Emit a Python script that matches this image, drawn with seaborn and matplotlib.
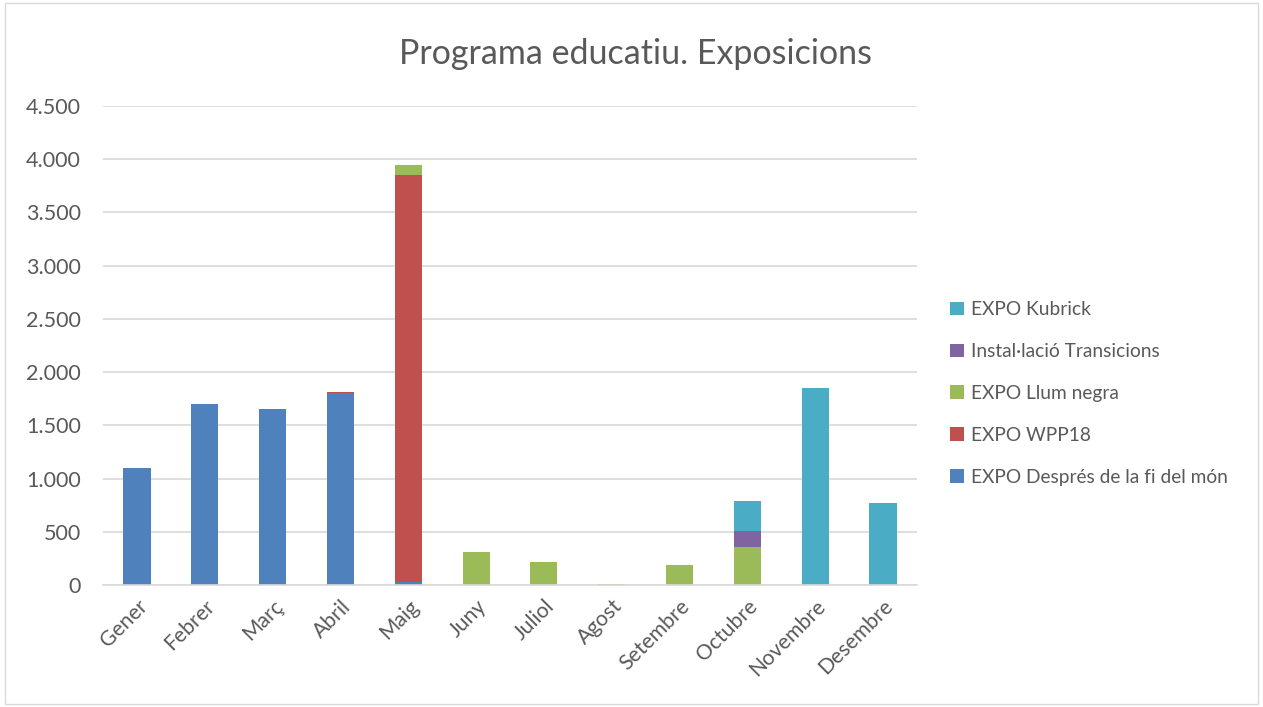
import matplotlib
matplotlib.use("Agg")
import matplotlib.pyplot as plt
import seaborn as sns
import pandas as pd
import numpy as np
from matplotlib.ticker import FuncFormatter
from matplotlib.patches import Rectangle

months = ["Gener", "Febrer", "Març", "Abril", "Maig", "Juny", "Juliol", "Agost",
          "Setembre", "Octubre", "Novembre", "Desembre"]
despres = [1100, 1700, 1650, 1805, 25, 0, 0, 0, 0, 0, 0, 0]
wpp18 = [0, 0, 0, 12, 3830, 0, 0, 0, 0, 0, 0, 0]
llum_negra = [0, 0, 0, 0, 95, 310, 220, 10, 190, 360, 0, 0]
transicions = [0, 0, 0, 0, 0, 0, 0, 0, 0, 150, 0, 0]
kubrick = [0, 0, 0, 0, 0, 0, 0, 0, 0, 280, 1850, 770]

series_names = ["EXPO Després de la fi del món", "EXPO WPP18", "EXPO Llum negra",
                "Instal·lació Transicions", "EXPO Kubrick"]
series_values = [despres, wpp18, llum_negra, transicions, kubrick]
colors = ["#4F81BD", "#C0504D", "#9BBB59", "#8064A2", "#4BACC6"]

sns.set_theme(style="white")
plt.rcParams["font.family"] = ["Lato", "DejaVu Sans"]

fig = plt.figure(figsize=(12.63, 7.07), dpi=100)
ax = fig.add_axes([0.0816, 0.1726, 0.6444, 0.6774])

bottom = np.zeros(len(months))
for name, vals, col in zip(series_names, series_values, colors):
    df = pd.DataFrame({"mes": months, "valor": vals})
    sns.barplot(data=df, x="mes", y="valor", color=col, bottom=bottom, width=0.4,
                ax=ax, label=name, saturation=1, errorbar=None, order=months,
                linewidth=0, edgecolor="none")
    bottom = bottom + np.array(vals)

ax.set_ylim(0, 4500)
ax.set_yticks(np.arange(0, 4501, 500))
ax.yaxis.set_major_formatter(FuncFormatter(lambda v, p: f"{int(v):,}".replace(",", ".")))
ax.grid(axis="y", color="#D9D9D9", linewidth=1.2)
ax.set_axisbelow(True)
for s in ["top", "right", "left"]:
    ax.spines[s].set_visible(False)
ax.spines["bottom"].set_color("#D9D9D9")
ax.spines["bottom"].set_linewidth(1.2)
ax.set_xlabel("")
ax.set_ylabel("")
ax.tick_params(axis="y", length=0, labelsize=15.5, colors="#595959", pad=16)
ax.tick_params(axis="x", length=0, labelsize=15.2, colors="#595959", pad=8)
plt.setp(ax.get_xticklabels(), rotation=45, ha="right", rotation_mode="anchor")

fig.text(0.503, 0.924, "Programa educatiu. Exposicions", fontsize=24.5, color="#595959",
         ha="center", va="center")

handles, labels = ax.get_legend_handles_labels()
leg = ax.legend(handles[::-1], labels[::-1], loc="center left", bbox_to_anchor=(1.02, 0.40),
                frameon=False, fontsize=13.8, labelcolor="#595959",
                handlelength=0.7, handleheight=0.7, handletextpad=0.35, labelspacing=1.3)

fig.patches.append(Rectangle((0.004, 0.004), 0.992, 0.992, transform=fig.transFigure,
                             fill=False, edgecolor="#D9D9D9", linewidth=1))

fig.savefig("out.png", dpi=100)
